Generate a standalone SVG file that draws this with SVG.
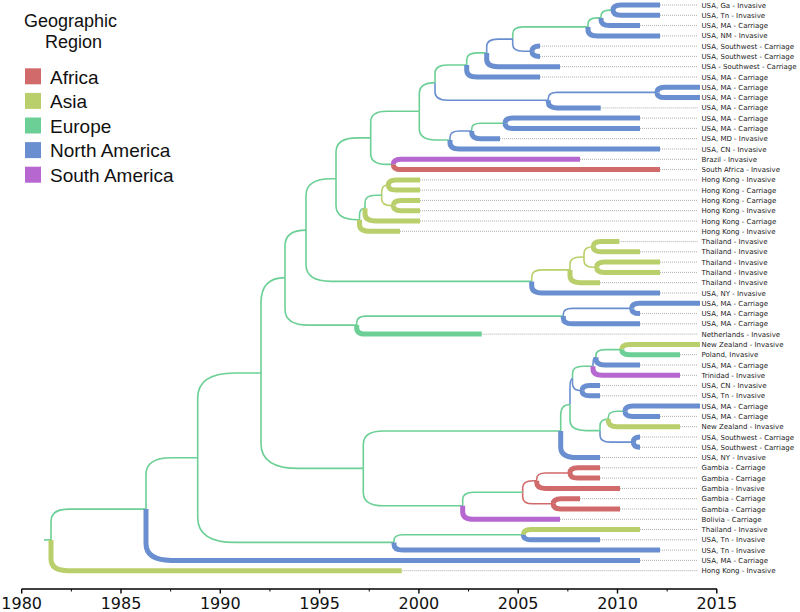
<svg xmlns="http://www.w3.org/2000/svg" width="800" height="612" viewBox="0 0 800 612">
<defs>
<style>
.b{fill:none;stroke-linecap:butt;stroke-linejoin:round}
.t{stroke-width:1.6}
.k{stroke-width:5}
.af{stroke:#d16a6a}.as{stroke:#b9cf6b}.eu{stroke:#6ccf95}.na{stroke:#6a8fd0}.sa{stroke:#b767d0}
.dot{fill:none;stroke:#9a9a9a;stroke-width:0.8;stroke-dasharray:1 1}
.lab{font-family:"DejaVu Sans",sans-serif;font-size:7px;fill:#222}
.leg{font-family:"Liberation Sans",Arial,sans-serif;fill:#111}
.ax{font-family:"DejaVu Sans",sans-serif;font-size:16px;fill:#111;text-anchor:middle}
</style>
</defs>
<rect width="800" height="612" fill="#fff"/>

<g id="legend">
<text class="leg" x="24" y="27" font-size="18">Geographic</text>
<text class="leg" x="45" y="48" font-size="18">Region</text>
<g id="leg-africa"><rect x="25" y="68.3" width="16" height="16" fill="#d16a6a"/><text class="leg" x="50" y="83.5" font-size="19">Africa</text></g>
<g id="leg-asia"><rect x="25" y="92.9" width="16" height="16" fill="#b9cf6b"/><text class="leg" x="50" y="108.1" font-size="19">Asia</text></g>
<g id="leg-europe"><rect x="25" y="117.5" width="16" height="16" fill="#6ccf95"/><text class="leg" x="50" y="132.7" font-size="19">Europe</text></g>
<g id="leg-na"><rect x="25" y="142.1" width="16" height="16" fill="#6a8fd0"/><text class="leg" x="50" y="157.3" font-size="19">North America</text></g>
<g id="leg-sa"><rect x="25" y="166.7" width="16" height="16" fill="#b767d0"/><text class="leg" x="50" y="181.9" font-size="19">South America</text></g>
</g>

<g id="connectors">
<path class="dot" d="M660 5H698M660 15.3H698M640 25.6H698M660 35.9H698M540 46.1H698M540 56.4H698M560 66.7H698M540 77H698M600.7 107.9H698M640 118.1H698M640 128.4H698M500 138.7H698M660 149H698M580 159.3H698M660 169.6H698M420 179.9H698M420 190.1H698M420 200.4H698M420 210.7H698M420 221H698M400 231.3H698M619.3 241.6H698M640 251.8H698M660 262.1H698M660 272.4H698M600 282.7H698M660 293H698M640 313.6H698M640 323.8H698M481.7 334.1H698M680 354.7H698M640 365H698M680 375.3H698M600 385.6H698M600 395.8H698M660 416.4H698M680 426.7H698M640 437H698M640 447.3H698M600 457.5H698M600 467.8H698M600 478.1H698M620 488.4H698M580 498.7H698M620 509H698M560 519.3H698M640 529.5H698M600 539.8H698M660 550.1H698M640 560.4H698M401.7 570.7H698"/>

<!-- internal branches (thin) -->
<path class="b t eu" d="M601 17.9V16.1Q601 10.1 609.9 10.1H613"/>
<path class="b t eu" d="M588 26.9V24.2Q588 17.9 597.4 17.9H601"/>
<path class="b t eu" d="M512.7 39.1V34Q512.7 26.9 523.3 26.9H588"/>
<path class="b t na" d="M512.7 39.1V44.3Q512.7 51.3 523.3 51.3H532"/>
<path class="b t na" d="M486.7 52.9V46.6Q486.7 39.1 497.9 39.1H512.7"/>
<path class="b t eu" d="M466.7 65V59.9Q466.7 52.9 477.2 52.9H486.7"/>
<path class="b t eu" d="M435 82.6V73.4Q435 65 447.6 65H466.7"/>
<path class="b t na" d="M548.3 100.2V98.4Q548.3 92.4 557.2 92.4H657"/>
<path class="b t na" d="M435 82.6V91.8Q435 100.2 447.6 100.2H548.3"/>
<path class="b t eu" d="M419.3 111.3V93.8Q419.3 82.6 435 82.6"/>
<path class="b t eu" d="M471.7 131V128.9Q471.7 123.3 480.6 123.3H505"/>
<path class="b t na" d="M450 140V137.3Q450 131 459.4 131H471.7"/>
<path class="b t eu" d="M419.3 111.3V128.8Q419.3 140 436.1 140H450"/>
<path class="b t eu" d="M370.7 137.9V122Q370.7 111.3 386.7 111.3H419.3"/>
<path class="b t eu" d="M370.7 137.9V153.8Q370.7 164.4 386.6 164.4H393.3"/>
<path class="b t eu" d="M336 178.8V152.1Q336 137.9 357.3 137.9H370.7"/>
<path class="b t as" d="M381.7 195.3V191.6Q381.7 185 388.3 185"/>
<path class="b t as" d="M381.7 195.3V199Q381.7 205.6 391.6 205.6H393.3"/>
<path class="b t eu" d="M365 208.2V202.5Q365 195.3 375.8 195.3H381.7"/>
<path class="b t eu" d="M359.5 219.7V215.1Q359.5 208.2 365 208.2"/>
<path class="b t eu" d="M336 178.8V205.5Q336 219.7 357.3 219.7H359.5"/>
<path class="b t eu" d="M306 230.1V195.6Q306 178.8 331.2 178.8H336"/>
<path class="b t as" d="M584 257V253.3Q584 246.7 593.3 246.7"/>
<path class="b t as" d="M584 257V260.7Q584 267.3 593.9 267.3H596.7"/>
<path class="b t as" d="M570 269.9V264.1Q570 257 580.8 257H584"/>
<path class="b t as" d="M531.7 281.4V276.8Q531.7 269.9 542 269.9H570"/>
<path class="b t eu" d="M306 230.1V264.6Q306 281.4 331.2 281.4H531.7"/>
<path class="b t eu" d="M285 277.6V246Q285 230.1 306 230.1"/>
<path class="b t na" d="M563.3 316.1V314.3Q563.3 308.4 572.2 308.4H631.7"/>
<path class="b t eu" d="M356.7 325.1V322.4Q356.7 316.1 366.1 316.1H563.3"/>
<path class="b t eu" d="M285 277.6V309.2Q285 325.1 308.8 325.1H356.7"/>
<path class="b t eu" d="M261 373V302.6Q261 277.6 285 277.6"/>
<path class="b t eu" d="M596 357.3V355.5Q596 349.6 604.9 349.6H621.7"/>
<path class="b t na" d="M593 366.3V363.6Q593 357.3 596 357.3"/>
<path class="b t eu" d="M572.5 378.5V373.4Q572.5 366.3 583.1 366.3H593"/>
<path class="b t na" d="M572.5 378.5V383.7Q572.5 390.7 582 390.7"/>
<path class="b t na" d="M570 404.5V389Q570 378.5 572.5 378.5"/>
<path class="b t eu" d="M608.3 419V417.2Q608.3 411.3 617.2 411.3H625"/>
<path class="b t eu" d="M600 430.6V425.9Q600 419 608.3 419"/>
<path class="b t na" d="M600 430.6V435.2Q600 442.1 610.4 442.1H633.3"/>
<path class="b t eu" d="M570 404.5V420.1Q570 430.6 585.8 430.6H600"/>
<path class="b t eu" d="M560.7 431V415.1Q560.7 404.5 570 404.5"/>
<path class="b t eu" d="M363.3 468.4V444.4Q363.3 431 383.3 431H560.7"/>
<path class="b t af" d="M536.7 480.7V478.9Q536.7 473 545.6 473H570"/>
<path class="b t af" d="M522.7 492.3V487.6Q522.7 480.7 533 480.7H536.7"/>
<path class="b t af" d="M522.7 492.3V496.9Q522.7 503.8 533 503.8H553.3"/>
<path class="b t eu" d="M462.7 505.8V499.7Q462.7 492.3 473.8 492.3H522.7"/>
<path class="b t eu" d="M363.3 468.4V492.5Q363.3 505.8 383.3 505.8H462.7"/>
<path class="b t eu" d="M261 373V443.4Q261 468.4 298.5 468.4H363.3"/>
<path class="b t eu" d="M197.7 457.7V398Q197.7 373 235.2 373H261"/>
<path class="b t eu" d="M394 542.4V540.5Q394 534.7 402.9 534.7H523.3"/>
<path class="b t eu" d="M197.7 457.7V517.4Q197.7 542.4 235.2 542.4H394"/>
<path class="b t eu" d="M146 509.1V474.6Q146 457.7 171.3 457.7H197.7"/>
<path class="b t eu" d="M51 539.9V521.6Q51 509.1 68.6 509.1H146"/>
<path class="b t eu" d="M44 539.9H51"/>

<!-- tip branches (thick) -->
<path class="b k na" d="M613 10.1Q613 5 620.7 5H660"/>
<path class="b k na" d="M613 10.1Q613 15.3 620.8 15.3H660"/>
<path class="b k na" d="M601 17.9V19.7Q601 25.6 609.9 25.6H640"/>
<path class="b k na" d="M588 26.9V29.7Q588 35.9 597.4 35.9H660"/>
<path class="b k na" d="M532 51.3Q532 46.1 539.8 46.1H540"/>
<path class="b k na" d="M532 51.3Q532 56.4 539.7 56.4H540"/>
<path class="b k na" d="M486.7 52.9V59.3Q486.7 66.7 497.9 66.7H560"/>
<path class="b k na" d="M466.7 65V70Q466.7 77 477.2 77H540"/>
<path class="b k na" d="M657 92.4Q657 87.3 664.7 87.3H700"/>
<path class="b k na" d="M657 92.4Q657 97.6 664.8 97.6H700"/>
<path class="b k na" d="M548.3 100.2V102Q548.3 107.9 557.2 107.9H600.7"/>
<path class="b k na" d="M505 123.3Q505 118.1 512.8 118.1H640"/>
<path class="b k na" d="M505 123.3Q505 128.4 512.7 128.4H640"/>
<path class="b k na" d="M471.7 131V132.8Q471.7 138.7 480.6 138.7H500"/>
<path class="b k na" d="M450 140V142.8Q450 149 459.4 149H660"/>
<path class="b k sa" d="M393.3 164.4Q393.3 159.3 401 159.3H580"/>
<path class="b k af" d="M393.3 164.4Q393.3 169.6 401.1 169.6H660"/>
<path class="b k as" d="M388.3 185Q388.3 179.9 396 179.9H420"/>
<path class="b k as" d="M388.3 185Q388.3 190.1 396 190.1H420"/>
<path class="b k as" d="M393.3 205.6Q393.3 200.4 401.1 200.4H420"/>
<path class="b k as" d="M393.3 205.6Q393.3 210.7 401 210.7H420"/>
<path class="b k as" d="M365 208.2V213.8Q365 221 375.8 221H420"/>
<path class="b k as" d="M359.5 219.7V224.4Q359.5 231.3 369.9 231.3H400"/>
<path class="b k as" d="M593.3 246.7Q593.3 241.6 601 241.6H619.3"/>
<path class="b k as" d="M593.3 246.7Q593.3 251.8 601 251.8H640"/>
<path class="b k as" d="M596.7 267.3Q596.7 262.1 604.5 262.1H660"/>
<path class="b k as" d="M596.7 267.3Q596.7 272.4 604.4 272.4H660"/>
<path class="b k as" d="M570 269.9V275.5Q570 282.7 580.8 282.7H600"/>
<path class="b k na" d="M531.7 281.4V286.1Q531.7 293 542 293H660"/>
<path class="b k na" d="M631.7 308.4Q631.7 303.3 639.4 303.3H700"/>
<path class="b k na" d="M631.7 308.4Q631.7 313.6 639.5 313.6H640"/>
<path class="b k na" d="M563.3 316.1V317.9Q563.3 323.8 572.2 323.8H640"/>
<path class="b k eu" d="M356.7 325.1V327.9Q356.7 334.1 366.1 334.1H481.7"/>
<path class="b k as" d="M621.7 349.6Q621.7 344.4 629.5 344.4H700"/>
<path class="b k eu" d="M621.7 349.6Q621.7 354.7 629.4 354.7H680"/>
<path class="b k na" d="M596 357.3V359.1Q596 365 604.9 365H640"/>
<path class="b k sa" d="M593 366.3V369.1Q593 375.3 602.4 375.3H680"/>
<path class="b k na" d="M582 390.7Q582 385.6 589.7 385.6H600"/>
<path class="b k na" d="M582 390.7Q582 395.8 589.7 395.8H600"/>
<path class="b k na" d="M625 411.3Q625 406.1 632.8 406.1H700"/>
<path class="b k na" d="M625 411.3Q625 416.4 632.7 416.4H660"/>
<path class="b k as" d="M608.3 419V420.8Q608.3 426.7 617.2 426.7H680"/>
<path class="b k na" d="M633.3 442.1Q633.3 437 640 437"/>
<path class="b k na" d="M633.3 442.1Q633.3 447.3 640 447.3"/>
<path class="b k na" d="M560.7 431V446.9Q560.7 457.5 576.6 457.5H600"/>
<path class="b k af" d="M570 473Q570 467.8 577.8 467.8H600"/>
<path class="b k af" d="M570 473Q570 478.1 577.7 478.1H600"/>
<path class="b k af" d="M536.7 480.7V482.5Q536.7 488.4 545.6 488.4H620"/>
<path class="b k af" d="M553.3 503.8Q553.3 498.7 561 498.7H580"/>
<path class="b k af" d="M553.3 503.8Q553.3 509 561.1 509H620"/>
<path class="b k sa" d="M462.7 505.8V511.9Q462.7 519.3 473.8 519.3H560"/>
<path class="b k as" d="M523.3 534.7Q523.3 529.5 531.1 529.5H640"/>
<path class="b k na" d="M523.3 534.7Q523.3 539.8 531 539.8H600"/>
<path class="b k na" d="M394 542.4V544.2Q394 550.1 402.9 550.1H660"/>
<path class="b k na" d="M146 509.1V543.6Q146 560.4 171.2 560.4H640"/>
<path class="b k as" d="M51 539.9V559Q51 570.7 68.6 570.7H401.7"/>
</g>

<g id="tips">
<g id="tip1"><text class="lab" x="701.5" y="7.5">USA, Ga - Invasive</text></g>
<g id="tip2"><text class="lab" x="701.5" y="17.8">USA, Tn - Invasive</text></g>
<g id="tip3"><text class="lab" x="701.5" y="28.1">USA, MA - Carriage</text></g>
<g id="tip4"><text class="lab" x="701.5" y="38.4">USA, NM - Invasive</text></g>
<g id="tip5"><text class="lab" x="701.5" y="48.6">USA, Southwest - Carriage</text></g>
<g id="tip6"><text class="lab" x="701.5" y="58.9">USA, Southwest - Carriage</text></g>
<g id="tip7"><text class="lab" x="701.5" y="69.2">USA - Southwest - Carriage</text></g>
<g id="tip8"><text class="lab" x="701.5" y="79.5">USA, MA - Carriage</text></g>
<g id="tip9"><text class="lab" x="701.5" y="89.8">USA, MA - Carriage</text></g>
<g id="tip10"><text class="lab" x="701.5" y="100.1">USA, MA - Carriage</text></g>
<g id="tip11"><text class="lab" x="701.5" y="110.4">USA, MA - Carriage</text></g>
<g id="tip12"><text class="lab" x="701.5" y="120.6">USA, MA - Carriage</text></g>
<g id="tip13"><text class="lab" x="701.5" y="130.9">USA, MA - Carriage</text></g>
<g id="tip14"><text class="lab" x="701.5" y="141.2">USA, MD - Invasive</text></g>
<g id="tip15"><text class="lab" x="701.5" y="151.5">USA, CN - Invasive</text></g>
<g id="tip16"><text class="lab" x="701.5" y="161.8">Brazil - Invasive</text></g>
<g id="tip17"><text class="lab" x="701.5" y="172.1">South Africa - Invasive</text></g>
<g id="tip18"><text class="lab" x="701.5" y="182.4">Hong Kong - Invasive</text></g>
<g id="tip19"><text class="lab" x="701.5" y="192.6">Hong Kong - Carriage</text></g>
<g id="tip20"><text class="lab" x="701.5" y="202.9">Hong Kong - Carriage</text></g>
<g id="tip21"><text class="lab" x="701.5" y="213.2">Hong Kong - Invasive</text></g>
<g id="tip22"><text class="lab" x="701.5" y="223.5">Hong Kong - Carriage</text></g>
<g id="tip23"><text class="lab" x="701.5" y="233.8">Hong Kong - Invasive</text></g>
<g id="tip24"><text class="lab" x="701.5" y="244.1">Thailand - Invasive</text></g>
<g id="tip25"><text class="lab" x="701.5" y="254.3">Thailand - Invasive</text></g>
<g id="tip26"><text class="lab" x="701.5" y="264.6">Thailand - Invasive</text></g>
<g id="tip27"><text class="lab" x="701.5" y="274.9">Thailand - Invasive</text></g>
<g id="tip28"><text class="lab" x="701.5" y="285.2">Thailand - Invasive</text></g>
<g id="tip29"><text class="lab" x="701.5" y="295.5">USA, NY - Invasive</text></g>
<g id="tip30"><text class="lab" x="701.5" y="305.8">USA, MA - Carriage</text></g>
<g id="tip31"><text class="lab" x="701.5" y="316.1">USA, MA - Carriage</text></g>
<g id="tip32"><text class="lab" x="701.5" y="326.3">USA, MA - Carriage</text></g>
<g id="tip33"><text class="lab" x="701.5" y="336.6">Netherlands - Invasive</text></g>
<g id="tip34"><text class="lab" x="701.5" y="346.9">New Zealand - Invasive</text></g>
<g id="tip35"><text class="lab" x="701.5" y="357.2">Poland, Invasive</text></g>
<g id="tip36"><text class="lab" x="701.5" y="367.5">USA, MA - Carriage</text></g>
<g id="tip37"><text class="lab" x="701.5" y="377.8">Trinidad - Invasive</text></g>
<g id="tip38"><text class="lab" x="701.5" y="388.1">USA, CN - Invasive</text></g>
<g id="tip39"><text class="lab" x="701.5" y="398.3">USA, Tn - Invasive</text></g>
<g id="tip40"><text class="lab" x="701.5" y="408.6">USA, MA - Carriage</text></g>
<g id="tip41"><text class="lab" x="701.5" y="418.9">USA, MA - Carriage</text></g>
<g id="tip42"><text class="lab" x="701.5" y="429.2">New Zealand - Invasive</text></g>
<g id="tip43"><text class="lab" x="701.5" y="439.5">USA, Southwest - Carriage</text></g>
<g id="tip44"><text class="lab" x="701.5" y="449.8">USA, Southwest - Carriage</text></g>
<g id="tip45"><text class="lab" x="701.5" y="460.0">USA, NY - Invasive</text></g>
<g id="tip46"><text class="lab" x="701.5" y="470.3">Gambia - Carriage</text></g>
<g id="tip47"><text class="lab" x="701.5" y="480.6">Gambia - Carriage</text></g>
<g id="tip48"><text class="lab" x="701.5" y="490.9">Gambia - Invasive</text></g>
<g id="tip49"><text class="lab" x="701.5" y="501.2">Gambia - Carriage</text></g>
<g id="tip50"><text class="lab" x="701.5" y="511.5">Gambia - Carriage</text></g>
<g id="tip51"><text class="lab" x="701.5" y="521.8">Bolivia - Carriage</text></g>
<g id="tip52"><text class="lab" x="701.5" y="532.0">Thailand - Invasive</text></g>
<g id="tip53"><text class="lab" x="701.5" y="542.3">USA, Tn - Invasive</text></g>
<g id="tip54"><text class="lab" x="701.5" y="552.6">USA, Tn - Invasive</text></g>
<g id="tip55"><text class="lab" x="701.5" y="562.9">USA, MA - Carriage</text></g>
<g id="tip56"><text class="lab" x="701.5" y="573.2">Hong Kong - Invasive</text></g>
</g>

<g id="axis">
<path d="M21.7 589H717" stroke="#000" stroke-width="1.6" fill="none"/>
<path d="M21.7 589V593.5M121 589V593.5M220.3 589V593.5M319.6 589V593.5M418.9 589V593.5M518.2 589V593.5M617.5 589V593.5M716.8 589V593.5" stroke="#000" stroke-width="1.4" fill="none"/>
<path d="M71.35 589V591.5M170.65 589V591.5M269.95 589V591.5M369.25 589V591.5M468.55 589V591.5M567.85 589V591.5M667.15 589V591.5" stroke="#000" stroke-width="1" fill="none"/>
<text class="ax" x="21.7" y="608.5">1980</text>
<text class="ax" x="121" y="608.5">1985</text>
<text class="ax" x="220.3" y="608.5">1990</text>
<text class="ax" x="319.6" y="608.5">1995</text>
<text class="ax" x="418.9" y="608.5">2000</text>
<text class="ax" x="518.2" y="608.5">2005</text>
<text class="ax" x="617.5" y="608.5">2010</text>
<text class="ax" x="716.8" y="608.5">2015</text>
</g>
</svg>
